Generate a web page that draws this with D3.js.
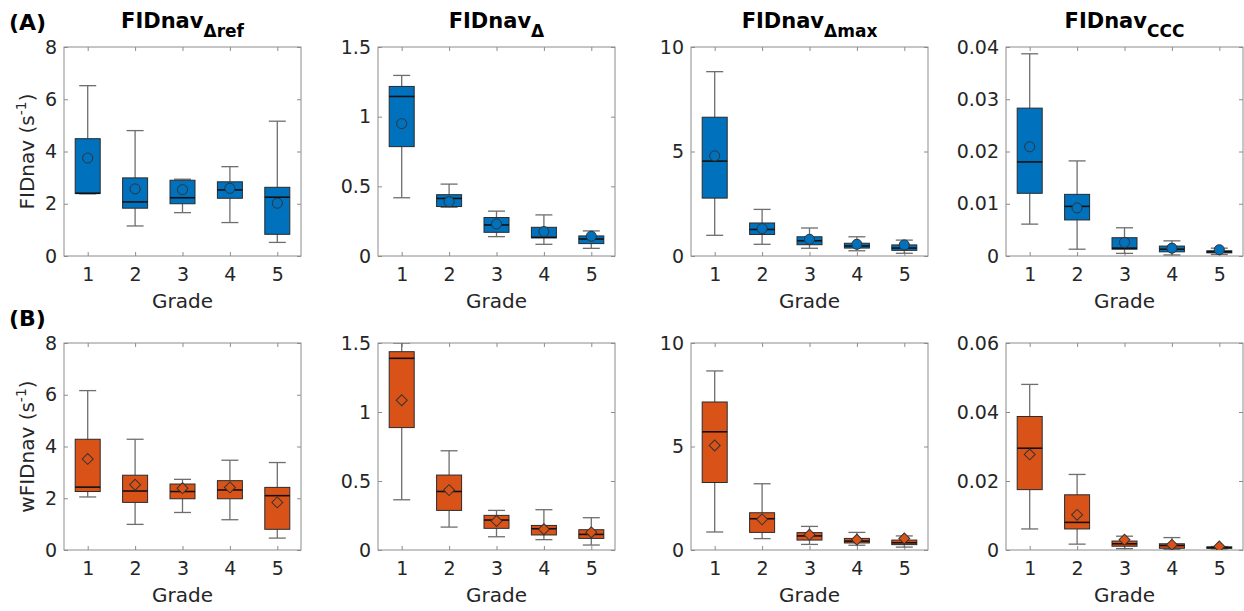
<!DOCTYPE html>
<html>
<head>
<meta charset="utf-8">
<script src="https://cdn.jsdelivr.net/npm/d3@7"></script>
<style>
  body { margin: 0; background: #fff; }
  svg text { font-family: "DejaVu Sans", sans-serif; fill: #262626; }
</style>
</head>
<body>
<div class="chart-area"></div>
<script>
// grades on the x axis
var grades = [1, 2, 3, 4, 5];

// each row: [whisker low, q1, median, q3, whisker high, mean]
var refA   = [[2.38, 2.40, 2.40, 4.49, 6.52, 3.75], [1.15, 1.83, 2.07, 2.99, 4.80, 2.57], [1.66, 2.00, 2.23, 2.90, 2.94, 2.54], [1.28, 2.21, 2.53, 2.84, 3.42, 2.59], [0.52, 0.83, 2.25, 2.63, 5.16, 2.02]];
var deltaA = [[0.418, 0.785, 1.145, 1.217, 1.296, 0.95], [0.35, 0.355, 0.413, 0.44, 0.516, 0.39], [0.139, 0.17, 0.223, 0.276, 0.322, 0.23], [0.084, 0.13, 0.134, 0.206, 0.295, 0.175], [0.055, 0.089, 0.122, 0.144, 0.18, 0.142]];
var maxA   = [[0.99, 2.77, 4.54, 6.64, 8.82, 4.79], [0.56, 1.03, 1.27, 1.58, 2.23, 1.31], [0.37, 0.54, 0.73, 0.92, 1.34, 0.80], [0.25, 0.38, 0.48, 0.61, 0.92, 0.56], [0.13, 0.27, 0.38, 0.53, 0.76, 0.53]];
var cccA   = [[0.0061, 0.0120, 0.0180, 0.0283, 0.0387, 0.0209], [0.0013, 0.0069, 0.0095, 0.0118, 0.0182, 0.0092], [0.0005, 0.0013, 0.0015, 0.0035, 0.0054, 0.0026], [0.0002, 0.0008, 0.0013, 0.0019, 0.0029, 0.0015], [0.0003, 0.0006, 0.0008, 0.0010, 0.0015, 0.0012]];

var refB   = [[2.05, 2.26, 2.43, 4.28, 6.16, 3.52], [0.99, 1.84, 2.28, 2.89, 4.28, 2.52], [1.45, 1.98, 2.26, 2.55, 2.73, 2.39], [1.17, 1.98, 2.32, 2.68, 3.47, 2.42], [0.46, 0.80, 2.10, 2.42, 3.38, 1.84]];
var deltaB = [[0.364, 0.887, 1.389, 1.437, 1.5, 1.085], [0.166, 0.287, 0.424, 0.543, 0.719, 0.434], [0.096, 0.157, 0.217, 0.251, 0.287, 0.21], [0.075, 0.109, 0.154, 0.178, 0.292, 0.15], [0.036, 0.084, 0.113, 0.147, 0.234, 0.128]];
var maxB   = [[0.87, 3.26, 5.71, 7.15, 8.65, 5.05], [0.55, 0.85, 1.51, 1.80, 3.20, 1.48], [0.27, 0.48, 0.68, 0.84, 1.14, 0.74], [0.23, 0.34, 0.43, 0.56, 0.85, 0.50], [0.14, 0.26, 0.35, 0.48, 0.68, 0.56]];
var cccB   = [[0.0061, 0.0175, 0.0295, 0.0387, 0.0480, 0.0277], [0.0017, 0.0061, 0.0080, 0.0160, 0.0219, 0.0102], [0.0004, 0.0011, 0.0018, 0.0026, 0.0040, 0.0030], [0.0002, 0.0005, 0.0013, 0.0018, 0.0036, 0.0015], [0.0003, 0.0005, 0.0007, 0.0009, 0.0010, 0.0010]];

// y axis ticks per column
var ticksRef   = [0, 2, 4, 6, 8];
var ticksDelta = [0, 0.5, 1, 1.5];
var ticksMax   = [0, 5, 10];
var ticksCccA  = [0, 0.01, 0.02, 0.03, 0.04];
var ticksCccB  = [0, 0.02, 0.04, 0.06];

var titleSubs = ["\u0394ref", "\u0394", "\u0394max", "CCC"];

var blue = "#0072BD", orange = "#D95319";

var svg = d3.select(".chart-area").append("svg")
    .attr("width", 1244)
    .attr("height", 611);

var colLeft = [64, 378, 691, 1006],
    panelW = 237;

var rows = [
  {top: 47, h: 209, color: blue, marker: "circle", ylab: "FIDnav", letter: "(A)",
   sets: [refA, deltaA, maxA, cccA], ticks: [ticksRef, ticksDelta, ticksMax, ticksCccA]},
  {top: 343, h: 207, color: orange, marker: "diamond", ylab: "wFIDnav", letter: "(B)",
   sets: [refB, deltaB, maxB, cccB], ticks: [ticksRef, ticksDelta, ticksMax, ticksCccB]}
];

rows.forEach(function(row, ri){

  svg.append("text")
    .attr("x", 9)
    .attr("y", row.top - 17)
    .style("font-size", "22px")
    .style("font-weight", "bold")
    .style("fill", "#000")
    .text(row.letter);

  row.sets.forEach(function(data, ci){

    var tks = row.ticks[ci];
    var g = svg.append("g")
      .attr("transform", "translate(" + colLeft[ci] + "," + row.top + ")");

    var x = d3.scaleLinear().domain([0.5, 5.5]).range([0, panelW]);
    var y = d3.scaleLinear().domain([0, tks[tks.length - 1]]).range([row.h, 0]);

    var clip = "clip" + ri + ci;
    g.append("clipPath").attr("id", clip)
      .append("rect").attr("width", panelW).attr("height", row.h);

    // axes, ticks drawn inward like matlab
    g.append("g").attr("class", "axis")
      .call(d3.axisLeft(y).tickValues(tks).tickFormat(String).tickSizeInner(-4).tickSizeOuter(0).tickPadding(7));
    g.append("g").attr("class", "axis")
      .attr("transform", "translate(" + panelW + ",0)")
      .call(d3.axisRight(y).tickValues(tks).tickFormat("").tickSizeInner(-4).tickSizeOuter(0));
    g.append("g").attr("class", "axis")
      .attr("transform", "translate(0," + row.h + ")")
      .call(d3.axisBottom(x).tickValues(grades).tickFormat(String).tickSizeInner(-4).tickSizeOuter(0).tickPadding(12));
    g.append("g").attr("class", "axis")
      .call(d3.axisTop(x).tickValues(grades).tickFormat("").tickSizeInner(-4).tickSizeOuter(0));

    g.selectAll(".axis .domain").remove();
    g.selectAll(".axis line").attr("stroke", "#8c8c8c");
    g.selectAll(".axis text")
      .attr("font-family", "DejaVu Sans, sans-serif")
      .attr("font-size", 19)
      .attr("fill", "#262626");

    g.append("rect")
      .attr("width", panelW)
      .attr("height", row.h)
      .attr("fill", "none")
      .attr("stroke", "#8c8c8c")
      .attr("stroke-width", 1);

    var plot = g.append("g").attr("clip-path", "url(#" + clip + ")");
    var bw = 25, cw = 17;

    var items = plot.selectAll(".box").data(data).enter().append("g")
      .attr("transform", function(d, i){ return "translate(" + x(grades[i]) + ",0)"; });

    // whiskers and caps
    [[0, 1], [3, 4]].forEach(function(p){
      items.append("line")
        .attr("y1", function(d){ return y(d[p[0]]); })
        .attr("y2", function(d){ return y(d[p[1]]); })
        .attr("stroke", "#6e6e6e").attr("stroke-width", 1.3);
    });
    [0, 4].forEach(function(k){
      items.append("line")
        .attr("x1", -cw / 2).attr("x2", cw / 2)
        .attr("y1", function(d){ return y(d[k]); })
        .attr("y2", function(d){ return y(d[k]); })
        .attr("stroke", "#6e6e6e").attr("stroke-width", 1.3);
    });

    items.append("rect")
      .attr("x", -bw / 2)
      .attr("width", bw)
      .attr("y", function(d){ return y(d[3]); })
      .attr("height", function(d){ return Math.max(1, y(d[1]) - y(d[3])); })
      .attr("fill", row.color)
      .attr("stroke", "#2a2a2a")
      .attr("stroke-width", 1);

    items.append("line")
      .attr("x1", -bw / 2).attr("x2", bw / 2)
      .attr("y1", function(d){ return y(d[2]); })
      .attr("y2", function(d){ return y(d[2]); })
      .attr("stroke", "#111").attr("stroke-width", 1.6);

    var isCircle = row.marker === "circle";
    var sym = d3.symbol()
      .type(isCircle ? d3.symbolCircle : d3.symbolSquare)
      .size(isCircle ? 80 : 60);
    items.append("path")
      .attr("d", sym)
      .attr("transform", function(d){
        return "translate(0," + y(d[5]) + ")" + (isCircle ? "" : " rotate(45)");
      })
      .attr("fill", row.color)
      .attr("stroke", "#333")
      .attr("stroke-width", 1);

    // x label
    g.append("text")
      .attr("x", panelW / 2)
      .attr("y", row.h + 52)
      .attr("text-anchor", "middle")
      .style("font-size", "20px")
      .text("Grade");

    // y label only on first column
    if (ci === 0) {
      var lab = svg.append("text")
        .attr("transform", "translate(34," + (row.top + row.h / 2) + ") rotate(-90)")
        .attr("text-anchor", "middle")
        .style("font-size", "20px");
      lab.append("tspan").text(row.ylab + " (s");
      lab.append("tspan").attr("dy", -8).style("font-size", "14px").text("-1");
      lab.append("tspan").attr("dy", 8).text(")");
    }

    // titles on top row
    if (ri === 0) {
      var t = svg.append("text")
        .attr("x", colLeft[ci] + panelW / 2)
        .attr("y", 28)
        .attr("text-anchor", "middle")
        .style("font-size", "21px")
        .style("font-weight", "bold")
        .style("fill", "#000");
      t.append("tspan").text("FIDnav");
      t.append("tspan").attr("dy", 9).style("font-size", "17px").text(titleSubs[ci]);
    }
  });
});
</script>
</body>
</html>
